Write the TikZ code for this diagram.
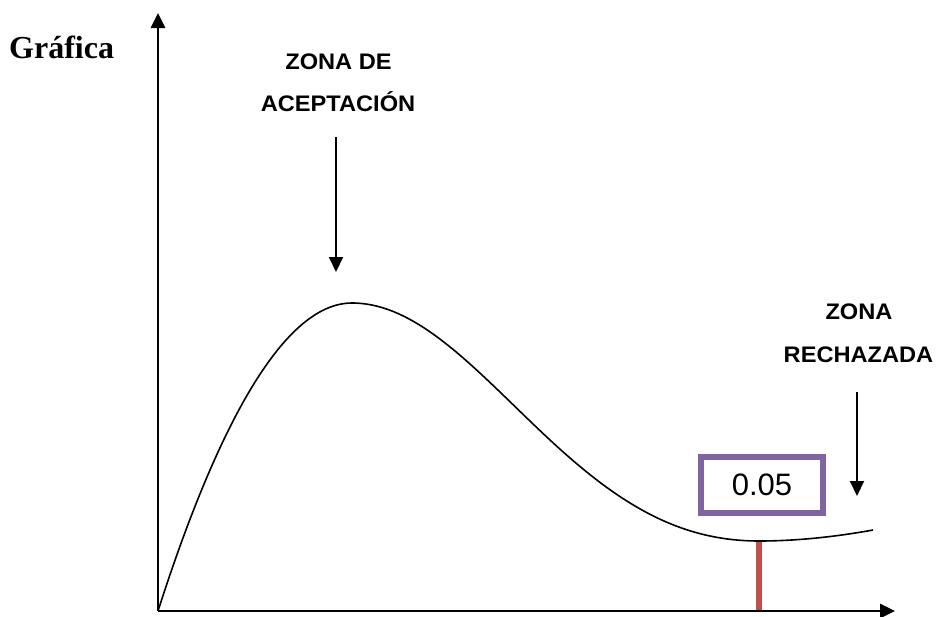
\documentclass[tikz,border=0pt]{standalone}
\usepackage{fontspec}
\usepackage{graphicx}
\setmainfont{Liberation Serif}
\newfontfamily\arialf{Liberation Sans}
\usetikzlibrary{arrows.meta}
\definecolor{boxpurple}{HTML}{8064A2}
\definecolor{cutred}{HTML}{C0504D}
\newcommand\widetxt[1]{\scalebox{1.05}[1]{#1}}
\tikzset{
  axisline/.style={line width=2.6pt,-{Triangle[length=15pt,width=14pt]}},
  pointer/.style={line width=2pt,-{Triangle[length=15pt,width=14pt]}},
  zonelabel/.style={font=\arialf\bfseries\fontsize{22.5}{23}\selectfont,anchor=base,inner sep=0pt},
  valbox/.style={draw=boxpurple,line width=6.5pt,minimum width=122pt,minimum height=56pt,inner sep=0pt,font=\arialf\fontsize{31}{32}\selectfont},
}
\begin{document}
\begin{tikzpicture}[x=1pt,y=-1pt]
\useasboundingbox (0,0) rectangle (937,616);
% coordinates
\coordinate (O) at (158,611);
\coordinate (ytip) at (158,13);
\coordinate (xtip) at (895,611);
\coordinate (peak) at (352,303);
\coordinate (infl) at (550,440);
\coordinate (minpt) at (759,541);
\coordinate (cend) at (873,530);
\coordinate (minbase) at (759,611);
\coordinate (a1) at (336,137);
\coordinate (a2) at (336,272);
\coordinate (r1) at (857,392);
\coordinate (r2) at (857,496);
% red cut line
\draw[cutred,line width=6.5pt] (minpt) -- (minbase);
% axes
\draw[axisline] (O) -- (ytip);
\draw[axisline] (O) -- (xtip);
% curve
\draw[line width=1.6pt] (O) .. controls (200,480) and (270,303) .. (peak)
  .. controls (420,303) and (480,375) .. (infl)
  .. controls (620,505) and (680,541) .. (minpt)
  .. controls (800,541) and (840,536) .. (cend);
% labels
\node[anchor=base west,inner sep=0pt,font=\bfseries\fontsize{32}{33}\selectfont] (graf) at (9,58) {Gráfica};
\node[zonelabel] (za1) at (338.5,69) {\widetxt{ZONA DE}};
\node[zonelabel] (za2) at (338,111) {\widetxt{ACEPTACIÓN}};
\node[zonelabel] (zr1) at (859,319) {\widetxt{ZONA}};
\node[zonelabel] (zr2) at (858.5,362) {\widetxt{RECHAZADA}};
\draw[pointer] (a1) -- (a2);
\draw[pointer] (r1) -- (r2);
\node[valbox] (val) at (762,485) {0.05};
\end{tikzpicture}
\end{document}
